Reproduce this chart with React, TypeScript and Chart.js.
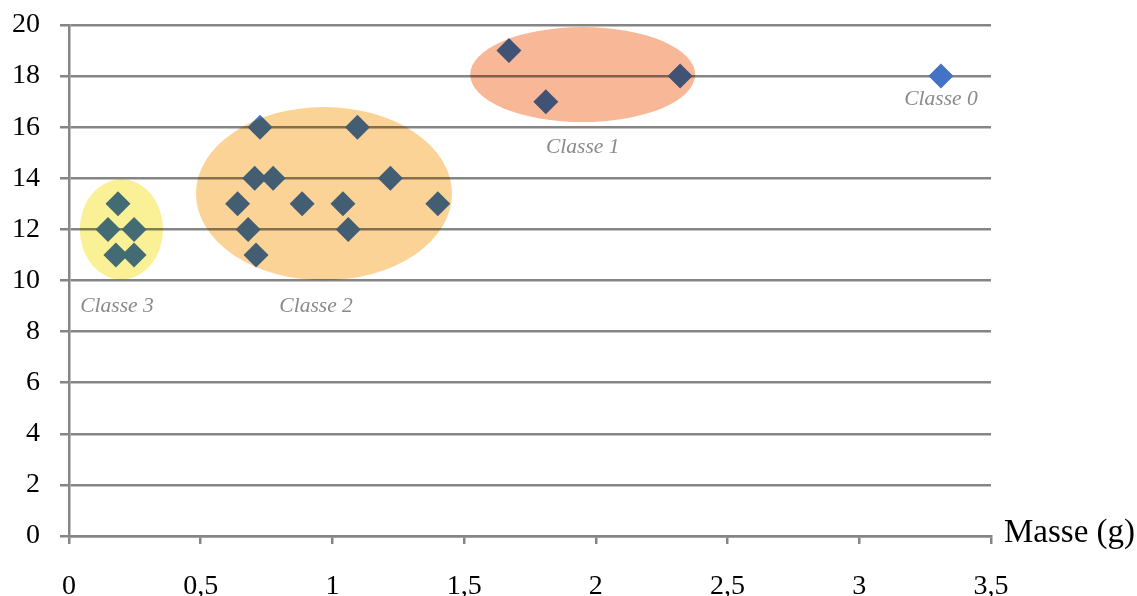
import React, { useEffect, useRef } from 'react';
import { Chart, registerables } from 'chart.js';

Chart.register(...registerables);

// ---- Data ----
const classe0X = [3.31];
const classe0Y = [18];
const classe1X = [1.67, 1.81, 2.32];
const classe1Y = [19, 17, 18];
const classe2X = [0.725, 1.095, 0.705, 0.775, 1.22, 0.64, 0.885, 1.04, 1.4, 0.68, 1.06, 0.71];
const classe2Y = [16, 16, 14, 14, 14, 13, 13, 13, 13, 12, 12, 11];
const classe3X = [0.186, 0.148, 0.247, 0.178, 0.247];
const classe3Y = [13, 12, 12, 11, 11];

const xTickLabels = ['0', '0,5', '1', '1,5', '2', '2,5', '3', '3,5'];
const xAxisTitle = 'Masse (g)';

// Class group ellipses (data units)
const ellipseCx = [0.199, 0.968, 1.95];
const ellipseCy = [12, 13.4, 18.06];
const ellipseRx = [0.158, 0.486, 0.427];
const ellipseRy = [1.96, 3.39, 1.86];
const ellipseColors = ['#FAF096', '#FBD396', '#F8B898'];

// Class labels (data units)
const classLabels = ['Classe 0', 'Classe 1', 'Classe 2', 'Classe 3'];
const classLabelX = [3.31, 1.95, 0.938, 0.182];
const classLabelY = [17.1, 15.2, 9.0, 9.0];

const toPoints = (xs: number[], ys: number[]) => xs.map((x, i) => ({ x, y: ys[i] }));

const GRID = '#858585';
const POINT = '#4472C4';
const SERIF = '"Liberation Serif", "Times New Roman", serif';

const overlayPlugin = {
  id: 'overlay',
  afterDatasetsDraw(chart: any) {
    const { ctx, chartArea } = chart;
    const xs = chart.scales.x;
    const ys = chart.scales.y;
    ctx.save();
    ctx.globalCompositeOperation = 'multiply';
    for (let i = 0; i < ellipseCx.length; i++) {
      const cx = xs.getPixelForValue(ellipseCx[i]);
      const cy = ys.getPixelForValue(ellipseCy[i]);
      const rx = Math.abs(xs.getPixelForValue(ellipseCx[i] + ellipseRx[i]) - cx);
      const ry = Math.abs(ys.getPixelForValue(ellipseCy[i] + ellipseRy[i]) - cy);
      ctx.beginPath();
      ctx.ellipse(cx, cy, rx, ry, 0, 0, Math.PI * 2);
      ctx.fillStyle = ellipseColors[i];
      ctx.fill();
    }
    ctx.restore();

    ctx.save();
    ctx.font = `italic 21.5px ${SERIF}`;
    ctx.fillStyle = '#8a8a8e';
    ctx.textAlign = 'center';
    ctx.textBaseline = 'middle';
    for (let i = 0; i < classLabels.length; i++) {
      ctx.fillText(classLabels[i], xs.getPixelForValue(classLabelX[i]), ys.getPixelForValue(classLabelY[i]));
    }
    ctx.font = `33px ${SERIF}`;
    ctx.fillStyle = '#000';
    ctx.textAlign = 'left';
    ctx.textBaseline = 'alphabetic';
    ctx.fillText(xAxisTitle, chartArea.right + 13, ys.getPixelForValue(0) + 6);
    ctx.restore();
  },
};

export default function App() {
  const ref = useRef<HTMLCanvasElement | null>(null);

  useEffect(() => {
    document.body.style.margin = '0';
    if (!ref.current) return;
    const mk = (label: string, xs: number[], ys: number[]) => ({
      label,
      data: toPoints(xs, ys),
      pointStyle: 'rectRot',
      pointRadius: 12.5,
      pointHoverRadius: 12.5,
      backgroundColor: POINT,
      borderColor: POINT,
      borderWidth: 0,
    });
    const chart = new Chart(ref.current, {
      type: 'scatter',
      data: {
        datasets: [
          mk('Classe 0', classe0X, classe0Y),
          mk('Classe 1', classe1X, classe1Y),
          mk('Classe 2', classe2X, classe2Y),
          mk('Classe 3', classe3X, classe3Y),
        ],
      },
      options: {
        animation: false,
        responsive: true,
        maintainAspectRatio: false,
        layout: { padding: { left: 0, right: 146, top: 25, bottom: 0 } },
        plugins: { legend: { display: false }, tooltip: { enabled: false } },
        scales: {
          x: {
            type: 'linear',
            min: 0,
            max: 3.5,
            afterFit: (s: any) => { s.height = 60; s.paddingLeft = 0; s.paddingRight = 0; },
            afterBuildTicks: (s: any) => {
              s.ticks = xTickLabels.map((_, i) => ({ value: i * 0.5 }));
            },
            ticks: {
              stepSize: 0.5,
              padding: 26,
              color: '#000',
              font: { family: SERIF, size: 28 },
              maxRotation: 0,
              callback: (_v: any, i: number) => xTickLabels[i],
            },
            grid: { display: true, drawOnChartArea: false, drawTicks: true, tickLength: 8, color: GRID, lineWidth: 2.5 },
            border: { display: true, color: GRID, width: 2.5 },
          },
          y: {
            type: 'linear',
            min: 0,
            max: 20,
            afterFit: (s: any) => { s.width = 69; s.paddingTop = 0; s.paddingBottom = 0; },
            ticks: {
              stepSize: 2,
              padding: 20,
              color: '#000',
              font: { family: SERIF, size: 28 },
            },
            grid: { color: GRID, lineWidth: 2.5, tickLength: 9, drawTicks: true },
            border: { display: true, color: GRID, width: 2.5 },
          },
        },
      },
      plugins: [overlayPlugin],
    });
    return () => chart.destroy();
  }, []);

  return (
    <div style={{ width: 1137, height: 596, position: 'relative' }}>
      <canvas ref={ref} />
    </div>
  );
}
